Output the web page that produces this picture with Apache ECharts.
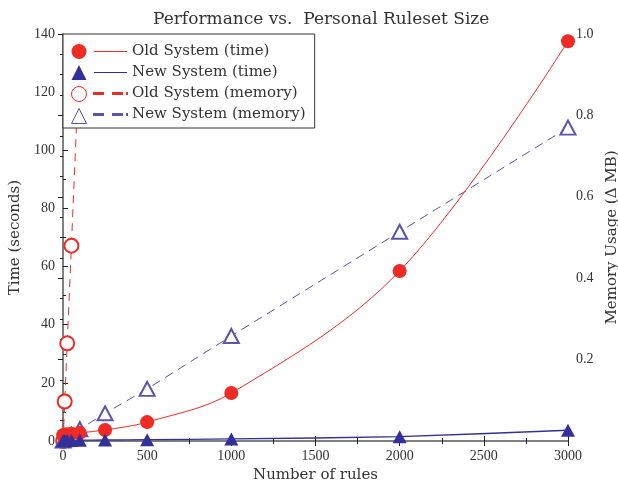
<!DOCTYPE html>
<html>
<head>
<meta charset="utf-8">
<script src="https://cdn.jsdelivr.net/npm/echarts@6/dist/echarts.min.js"></script>
<style>html,body{margin:0;padding:0;background:#fff}#c{width:618px;height:488px}</style>
</head>
<body>
<div id="c"></div>
<script>
var ruleCounts = [1, 10, 25, 50, 100, 250, 500, 1000, 2000, 3000];
var oldTime = [2.0, 2.2, 2.3, 2.5, 2.8, 3.8, 6.5, 16.5, 58.5, 137.5];
var newTime = [0.1, 0.1, 0.15, 0.2, 0.3, 0.35, 0.45, 0.7, 1.5, 3.7];
var oldMemRules = [1, 10, 25, 50, 100];
var oldMemory = [0.0, 0.097, 0.24, 0.48, 0.97];
var newMemory = [0.001, 0.004, 0.008, 0.015, 0.029, 0.068, 0.128, 0.258, 0.514, 0.77];
var xTicks = [0, 500, 1000, 1500, 2000, 2500, 3000];
var seriesNames = ['Old System (time)', 'New System (time)', 'Old System (memory)', 'New System (memory)'];

var RED = '#ee2b24', BLUE = '#34309a', BLUE2 = '#5a54aa';
var FONT = 'Liberation Serif', TFONT = 'DejaVu Serif';
function pairs(xs, ys) { return xs.map(function (x, i) { return [x, ys[i]]; }); }

var axisLine = { show: true, lineStyle: { color: '#777', width: 1.5 } };
var tickStyle = { color: '#222', width: 1 };
var legendCommon = {
  orient: 'vertical', selectedMode: false, itemGap: 6, itemHeight: 15
};
var chart = echarts.init(document.getElementById('c'), null, { renderer: 'canvas' });
chart.setOption({
  animation: false,
  backgroundColor: '#fff',
  title: {
    text: 'Performance vs.  Personal Ruleset Size', left: 148, top: 6,
    textStyle: { fontFamily: TFONT, fontSize: 17, fontWeight: 'normal', color: '#333' }
  },
  grid: { left: 63, right: 50, top: 34, bottom: 47, containLabel: false, outerBoundsMode: 'none' },
  legend: [Object.assign({}, legendCommon, {
    left: 63, top: 34,
    padding: [10, 9, 6, 30], itemWidth: 33,
    backgroundColor: '#fff', borderColor: '#333', borderWidth: 1, z: 5,
    textStyle: { fontFamily: TFONT, fontSize: 15, color: '#333' },
    data: [
      { name: seriesNames[0], icon: 'path://M0,0h33v1.1h-33z', itemStyle: { color: RED } },
      { name: seriesNames[1], icon: 'path://M0,0h33v1.1h-33z', itemStyle: { color: BLUE } },
      { name: seriesNames[2], icon: 'path://M0,0h9v1.1h-9zM19,0h9v1.1h-9zM33,0h0.01v1.1h-0.01z', itemStyle: { color: RED } },
      { name: seriesNames[3], icon: 'path://M0,0h9v1.1h-9zM19,0h9v1.1h-9zM33,0h0.01v1.1h-0.01z', itemStyle: { color: BLUE } }
    ]
  }), Object.assign({}, legendCommon, {
    left: 71, top: 44, padding: 0, itemWidth: 15, z: 10,
    textStyle: { fontFamily: TFONT, fontSize: 15, color: 'rgba(0,0,0,0)' },
    data: [
      { name: seriesNames[0], icon: 'circle', itemStyle: { color: RED } },
      { name: seriesNames[1], icon: 'triangle', itemStyle: { color: BLUE } },
      { name: seriesNames[2], icon: 'circle', itemStyle: { color: '#fff', borderColor: RED, borderWidth: 1 } },
      { name: seriesNames[3], icon: 'triangle', itemStyle: { color: '#fff', borderColor: BLUE2, borderWidth: 1 } }
    ]
  })],
  xAxis: [{
    type: 'value', position: 'bottom', min: 0, max: 3000, interval: 500,
    axisLine: axisLine,
    axisTick: { inside: true, length: 5, lineStyle: tickStyle },
    minorTick: { show: true, splitNumber: 2, length: 3, lineStyle: tickStyle },
    splitLine: { show: false },
    axisLabel: { fontFamily: FONT, fontSize: 14, color: '#333', margin: 8,
      formatter: function (v) { return xTicks.indexOf(v) >= 0 ? String(v) : ''; } },
    name: 'Number of rules', nameLocation: 'middle', nameGap: 25,
    nameTextStyle: { fontFamily: TFONT, fontSize: 15, color: '#333' }
  }, {
    type: 'value', position: 'top', min: 0, max: 3000, interval: 500,
    axisLine: axisLine,
    axisTick: { inside: true, length: 5, lineStyle: tickStyle },
    minorTick: { show: true, splitNumber: 2, length: 3, lineStyle: tickStyle },
    splitLine: { show: false }, axisLabel: { show: false }
  }],
  yAxis: [{
    type: 'value', position: 'left', min: 0, max: 140, interval: 20,
    axisLine: axisLine,
    axisTick: { inside: true, length: 5, lineStyle: tickStyle },
    minorTick: { show: true, splitNumber: 2, length: 3, lineStyle: tickStyle },
    splitLine: { show: false },
    axisLabel: { fontFamily: FONT, fontSize: 14, color: '#333', margin: 8 },
    name: 'Time (seconds)', nameLocation: 'middle', nameGap: 37, nameRotate: 90,
    nameTextStyle: { fontFamily: TFONT, fontSize: 15, color: '#333' }
  }, {
    type: 'value', position: 'right', min: 0, max: 1, interval: 0.2,
    axisLine: axisLine,
    axisTick: { inside: true, length: 5, lineStyle: tickStyle },
    minorTick: { show: true, splitNumber: 4, length: 3, lineStyle: tickStyle },
    splitLine: { show: false },
    axisLabel: { fontFamily: FONT, fontSize: 14, color: '#333', margin: 8,
      formatter: function (v) { return v === 0 ? '' : v.toFixed(1); } },
    name: 'Memory Usage (\u0394 MB)', nameLocation: 'middle', nameGap: 33, nameRotate: 90,
    nameTextStyle: { fontFamily: TFONT, fontSize: 15, color: '#333' }
  }],
  series: [{
    name: seriesNames[0], type: 'line', xAxisIndex: 0, yAxisIndex: 0,
    data: pairs(ruleCounts, oldTime), smooth: 0.35,
    symbol: 'circle', symbolSize: 14, z: 4,
    lineStyle: { color: RED, width: 1 }, itemStyle: { color: RED }
  }, {
    name: seriesNames[1], type: 'line', xAxisIndex: 0, yAxisIndex: 0,
    data: pairs(ruleCounts, newTime), smooth: 0.2,
    symbol: 'triangle', symbolSize: [14, 13], z: 4,
    lineStyle: { color: BLUE, width: 1.3 }, itemStyle: { color: BLUE }
  }, {
    name: seriesNames[2], type: 'line', xAxisIndex: 0, yAxisIndex: 1,
    data: pairs(oldMemRules, oldMemory),
    symbol: 'emptyCircle', symbolSize: 14, z: 3,
    lineStyle: { color: RED, width: 1, type: [8, 6] },
    itemStyle: { color: RED, borderColor: RED, borderWidth: 1 }
  }, {
    name: seriesNames[3], type: 'line', xAxisIndex: 0, yAxisIndex: 1,
    data: pairs(ruleCounts, newMemory),
    symbol: 'emptyTriangle', symbolSize: [15, 14], z: 3,
    lineStyle: { color: BLUE2, width: 1, type: [9, 6] },
    itemStyle: { color: BLUE2, borderColor: BLUE2, borderWidth: 1 }
  }]
});
</script>
</body>
</html>
